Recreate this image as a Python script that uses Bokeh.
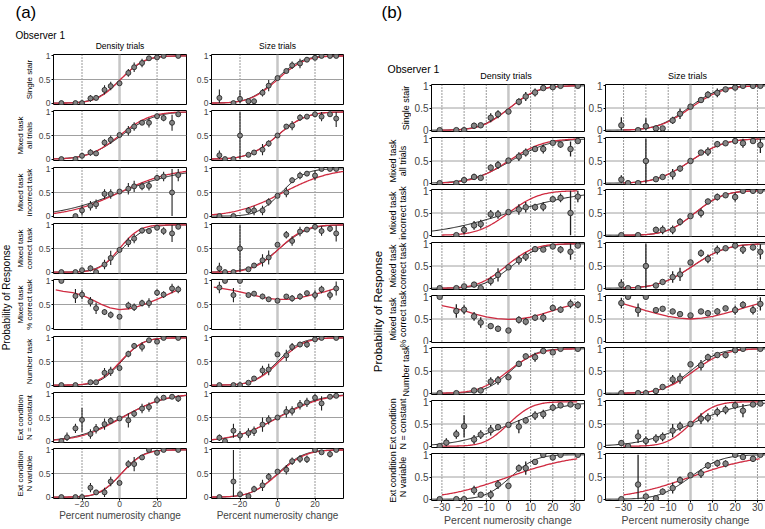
import math
from bokeh.plotting import figure
from bokeh.models import Range1d, FixedTicker, Span, ColumnDataSource
from bokeh.layouts import row, column
from bokeh.embed import file_html
from bokeh.resources import INLINE
from bokeh.core.properties import value

N = None
FONT = "Liberation Sans"
RED = "#cf2a40"
BLACK = "#1c1c1c"

# ---------------- data ----------------
x_levels = [-31, -28, -23.5, -20, -15.5, -12.5, -8, -4.7, 0, 4.7, 7.8, 12, 15.7, 20, 23.5, 28, 31.3]

row_labels = [("Single stair",), ("Mixed task", "all trials"), ("Mixed task", "incorrect task"),
              ("Mixed task", "correct task"), ("Mixed task", "% correct task"), ("Number task",),
              ("Ext condition", "N = constant"), ("Ext condition", "N variable")]
col_titles = ["Density trials", "Size trials"]
x_label = "Percent numerosity change"
y_label = "Probability of Response"
y_ticks = [0, 0.5, 1]
x_ticks_a = [-20, 0, 20]
x_ticks_b = [-30, -20, -10, 0, 10, 20, 30]

# Density trials (proportions, error half-lengths)
d_single = [0, N, 0, 0, 0.10, 0.11, 0.28, 0.36, 0.42, 0.64, 0.76, 0.85, 0.95, 0.97, 1.0, N, 1.0]
d_single_e = [0, 0, 0, 0, 0.07, 0.05, 0.10, 0.09, 0, 0.08, 0.10, 0.09, 0.04, 0.02, 0, 0, 0]
d_all = [0, N, 0, 0.07, 0.14, 0.12, 0.35, 0.41, 0.51, 0.60, 0.69, 0.77, 0.77, 0.91, 0.87, 0.77, 0.95]
d_all_e = [0, 0, 0, 0.04, 0.07, 0.05, 0.07, 0.09, 0, 0.10, 0.09, 0.05, 0.10, 0.03, 0.07, 0.17, 0.04]
d_incorrect = [N, N, 0, 0.12, 0.22, 0.25, 0.47, 0.47, 0.52, 0.58, 0.63, 0.63, 0.64, 0.81, 0.84, 0.50, 0.87]
d_incorrect_e = [0, 0, 0, 0.10, 0.10, 0.10, 0.10, 0.10, 0, 0.12, 0.12, 0.08, 0.10, 0.06, 0.10, 0.50, 0.13]
d_correct = [0, N, 0, 0.04, 0.08, 0, 0.16, 0.30, 0.47, 0.63, 0.71, 0.88, 0.87, 0.94, 0.87, 0.82, 0.96]
d_correct_e = [0, 0, 0, 0.02, 0.06, 0, 0.10, 0.15, 0, 0.10, 0.10, 0.06, 0.05, 0.03, 0.08, 0.18, 0.04]
d_pct = [1.0, N, 0.68, 0.71, 0.56, 0.42, 0.34, 0.28, 0.24, 0.48, 0.44, 0.53, 0.53, 0.75, 0.71, 0.84, 0.82]
d_pct_e = [0, 0, 0.15, 0.10, 0.10, 0.12, 0.06, 0.07, 0, 0.08, 0.08, 0.07, 0.10, 0.07, 0.07, 0.10, 0.08]
d_number = [0, N, 0, N, 0.06, 0.06, 0.26, 0.29, 0.36, 0.66, 0.83, 0.81, 0.95, 0.92, 1.0, N, 1.0]
d_number_e = [0, 0, 0, 0, 0.03, 0.03, 0.10, 0.10, 0, 0.07, 0.06, 0.10, 0.03, 0.05, 0, 0, 0]
d_constant = [0, 0.08, 0.27, 0.45, 0.15, 0.26, 0.36, 0.43, 0.48, 0.44, 0.58, 0.69, 0.72, 0.87, 0.92, 0.94, 0.90]
d_constant_e = [0, 0.10, 0.10, 0.25, 0.10, 0.10, 0.12, 0.07, 0, 0.15, 0.07, 0.10, 0.10, 0.08, 0.05, 0.03, 0.07]
d_variable = [0, N, 0, 0, 0.20, 0.10, 0.10, 0.33, 0.30, 0.70, 0.70, 0.84, 1.0, 0.94, 1.0, N, 1.0]
d_variable_e = [0, 0, 0, 0, 0.10, 0.05, 0.10, 0.10, 0, 0.08, 0.15, 0.05, 0, 0.05, 0, 0, 0]

# Size trials
s_single = [0.11, N, 0, 0.09, 0.04, 0.04, 0.22, 0.37, 0.53, 0.68, 0.80, 0.84, 0.92, 0.96, 1.0, 1.0, 1.0]
s_single_e = [0.18, 0, 0, 0.18, 0, 0, 0.08, 0.12, 0, 0.05, 0.08, 0.10, 0.05, 0.04, 0, 0, 0]
s_all = [0.08, 0, 0, 0.50, 0.09, 0.14, 0.20, 0.33, 0.50, 0.69, 0.71, 0.88, 0.90, 0.95, 0.90, 0.95, 0.86]
s_all_e = [0.10, 0, 0, 0.50, 0.03, 0.05, 0.12, 0.07, 0, 0.05, 0.10, 0.07, 0.03, 0.05, 0.10, 0.03, 0.18]
s_incorrect = [0, N, 0, N, 0.12, 0.12, 0.12, 0.30, 0.43, 0.50, 0.76, 0.86, 0.90, 0.86, 1.0, 1.0, 1.0]
s_incorrect_e = [0, 0, 0, 0, 0.07, 0.10, 0.10, 0.08, 0, 0.10, 0.06, 0.08, 0.05, 0.10, 0, 0, 0]
s_correct = [0.08, 0, 0, 0.50, 0.06, 0.14, 0.25, 0.31, 0.58, 0.79, 0.66, 0.86, 0.90, 0.96, 0.87, 0.92, 0.82]
s_correct_e = [0.12, 0, 0, 0.50, 0.03, 0.05, 0.13, 0.15, 0, 0.08, 0.10, 0.10, 0.05, 0.03, 0.10, 0.07, 0.17]
s_pct = [0.86, 1.0, 0.70, 1.0, 0.70, 0.73, 0.67, 0.61, 0.58, 0.67, 0.63, 0.67, 0.74, 0.70, 0.82, 0.70, 0.84]
s_pct_e = [0.12, 0, 0.15, 0, 0.05, 0.05, 0.06, 0.05, 0, 0.05, 0.07, 0.07, 0.05, 0.10, 0.08, 0.10, 0.15]
s_number = [0, N, 0, 0, 0.05, 0.14, 0.31, 0.33, 0.65, 0.63, 0.81, 0.86, 0.86, 0.97, 1.0, N, 1.0]
s_number_e = [0, 0, 0, 0, 0.02, 0.05, 0.10, 0.12, 0, 0.12, 0.08, 0.06, 0.07, 0.03, 0, 0, 0]
s_constant = [0.07, 0, 0.22, 0.12, 0.17, 0.21, 0.35, 0.45, 0.50, 0.62, 0.64, 0.77, 0.82, 0.92, 0.80, 0.94, 0.96]
s_constant_e = [0.07, 0, 0.15, 0.10, 0.10, 0.10, 0.15, 0.10, 0, 0.12, 0.10, 0.10, 0.10, 0.08, 0.15, 0.05, 0.03]
s_variable = [0, N, 0.33, 0.06, 0.02, 0.17, 0.25, 0.43, 0.54, 0.58, 0.76, 0.81, 0.80, 1.0, 0.95, 0.91, 1.0]
s_variable_e = [0, 0, 0.67, 0.05, 0, 0.07, 0.12, 0.08, 0, 0.10, 0.08, 0.08, 0.08, 0, 0.03, 0.07, 0]

density_y = [d_single, d_all, d_incorrect, d_correct, d_pct, d_number, d_constant, d_variable]
density_e = [d_single_e, d_all_e, d_incorrect_e, d_correct_e, d_pct_e, d_number_e, d_constant_e, d_variable_e]
size_y = [s_single, s_all, s_incorrect, s_correct, s_pct, s_number, s_constant, s_variable]
size_e = [s_single_e, s_all_e, s_incorrect_e, s_correct_e, s_pct_e, s_number_e, s_constant_e, s_variable_e]

# fitted cumulative-normal psychometric functions (PSE, spread)
black_pse_density = [0.5, 1, 0, 1.5, N, 1, 1, 1]
black_sd_density = [10.5, 14, 26, 10, N, 9, 19, 9]
black_pse_size = [-1, 0, 2, 1, N, 0, 0, 0]
black_sd_size = [11, 12, 10, 12, N, 10, 18, 11]

red_a_pse_density = [0.5, 0, 0, 0, N, 0.5, 1.5, 1]
red_a_sd_density = [10, 13, 22, 8.5, N, 9.5, 18, 9.5]
red_a_pse_size = [0, 0, 3, 1, N, 1, 0.5, 0.5]
red_a_sd_size = [11.5, 12, 20, 11, N, 10.5, 19, 11.5]

red_b_pse_density = [0.5, 0, 0, -1, N, 0, 0, 0]
red_b_sd_density = [10, 12.5, 11, 10, N, 10.5, 8.5, 23]
red_b_pse_size = [0, 0, 2, 1, N, 1.5, 0, 0]
red_b_sd_size = [11.5, 12, 10, 12, N, 11, 8.5, 23]

# "% correct task" model curves
pct_a_x = [-34, -30, -25, -20, -15, -10, -5, 0, 5, 10, 15, 20, 25, 31]
pct_a_density = [0.81, 0.78, 0.75, 0.70, 0.61, 0.51, 0.43, 0.39, 0.41, 0.46, 0.53, 0.61, 0.70, 0.81]
pct_a_size = [0.87, 0.84, 0.81, 0.77, 0.72, 0.67, 0.63, 0.61, 0.61, 0.63, 0.67, 0.72, 0.77, 0.84]
pct_b_x = [-30, -25, -20, -15, -10, -5, 0, 5, 10, 15, 20, 25, 31]
pct_b_density = [0.80, 0.75, 0.69, 0.61, 0.55, 0.51, 0.49, 0.50, 0.54, 0.61, 0.69, 0.77, 0.84]
pct_b_size = [0.84, 0.77, 0.69, 0.62, 0.56, 0.52, 0.50, 0.52, 0.56, 0.62, 0.69, 0.77, 0.85]


def phi(z):
    return 0.5 * (1.0 + math.erf(z / math.sqrt(2.0)))


def pix_fig(w, h):
    p = figure(frame_width=w, frame_height=h, x_range=Range1d(0, w), y_range=Range1d(0, h),
               min_border=0, x_axis_location=None, y_axis_location=None,
               toolbar_location=None, output_backend="svg", title=None)
    p.outline_line_color = None
    p.grid.visible = False
    return p


def put_text(p, h, left, top, items, size, align="left", baseline="middle", angle=0.0):
    p.text(x=[it[0] - left for it in items], y=[h - (it[1] - top) for it in items],
           text=[it[2] for it in items], angle=angle, text_font=value(FONT),
           text_font_size=value(size), text_align=align, text_baseline=baseline,
           text_color="black")


def sub_fig(xr, fw, fh, bl, br, bt, bb, bottom, xticks, dotted, tick_px, lab_px):
    p = figure(frame_width=fw, frame_height=fh, x_range=Range1d(*xr), y_range=Range1d(-0.03, 1.03),
               min_border_left=bl, min_border_right=br, min_border_top=bt, min_border_bottom=bb,
               x_axis_location="below" if bottom else None,
               toolbar_location=None, output_backend="svg", title=None)
    p.outline_line_color = "black"
    p.outline_line_width = 1
    p.outline_line_alpha = 1
    p.grid.visible = False
    ya = p.yaxis[0]
    ya.ticker = FixedTicker(ticks=y_ticks)
    ya.major_label_overrides = {0: "0", 0.5: "0.5", 1: "1"}
    ya.major_label_text_font = FONT
    ya.major_label_text_font_size = tick_px
    ya.major_label_standoff = 1
    ya.major_tick_out = 2
    ya.major_tick_in = 0
    ya.minor_tick_line_color = None
    ya.axis_line_color = None
    if bottom:
        xa = p.xaxis[0]
        xa.ticker = FixedTicker(ticks=xticks)
        xa.axis_label = x_label
        xa.axis_label_text_font = FONT
        xa.axis_label_text_font_size = lab_px
        xa.axis_label_text_font_style = "normal"
        xa.axis_label_standoff = 0
        xa.major_label_text_font = FONT
        xa.major_label_text_font_size = tick_px
        xa.major_label_standoff = 0
        xa.major_tick_out = 2
        xa.major_tick_in = 0
        xa.minor_tick_line_color = None
        xa.axis_line_color = None
    for v in dotted:
        p.add_layout(Span(location=v, dimension="height", line_color="#333333", line_width=1,
                          line_dash="1 2", level="underlay"))
    p.add_layout(Span(location=0, dimension="height", line_color="#c6c6c6", line_width=2.5,
                      level="underlay"))
    p.add_layout(Span(location=0.5, dimension="width", line_color="#a0a0a0", line_width=1,
                      level="underlay"))
    return p


def draw_data(p, ys, es, msize, ewidth):
    xs, yv, lo, hi = [], [], [], []
    for x, y, e in zip(x_levels, ys, es):
        if y is None:
            continue
        xs.append(x)
        yv.append(y)
        lo.append(max(0.0, y - e))
        hi.append(min(1.0, y + e))
    src = ColumnDataSource(dict(x=xs, y=yv, lo=lo, hi=hi))
    p.segment(x0="x", y0="lo", x1="x", y1="hi", source=src, line_color="#202020", line_width=ewidth)
    p.scatter(x="x", y="y", source=src, marker="circle", size=msize, fill_color="#858585",
              line_color="#2a2a2a", line_width=0.9)


def sigmoid_line(p, pse, sd, x0, x1, color, width):
    n = 140
    xs = [x0 + (x1 - x0) * i / n for i in range(n + 1)]
    ys = [phi((x - pse) / sd) for x in xs]
    p.line(xs, ys, line_color=color, line_width=width)


def build_panel(panel):
    if panel == "a":
        g = dict(fh=50, pitches=[56, 57, 56, 56, 57, 56, 56], bt=3, bb_last=23,
                 xrs=[(-35.2, 35.7), (-35.2, 35.2)], fws=[133, 132], bls=[18, 24], brs=[1, 3],
                 xticks=x_ticks_a, dotted=[-20, 20], tick_px="8.5px", lab_px="10px",
                 msize=5, ew=1.1)
        red_pse = [red_a_pse_density, red_a_pse_size]
        red_sd = [red_a_sd_density, red_a_sd_size]
        pct_x, pct_y = pct_a_x, [pct_a_density, pct_a_size]
        red_span = None
    else:
        g = dict(fh=47, pitches=[53, 52, 53, 53, 52, 53, 53], bt=3, bb_last=26,
                 xrs=[(-34.7, 34.3), (-38.1, 33.6)], fws=[153, 160], bls=[18, 19], brs=[1, 2],
                 xticks=x_ticks_b, dotted=[-30, -20, -10, 10, 20, 30], tick_px="10px",
                 lab_px="10.5px", msize=5.5, ew=1.3)
        red_pse = [red_b_pse_density, red_b_pse_size]
        red_sd = [red_b_sd_density, red_b_sd_size]
        pct_x, pct_y = pct_b_x, [pct_b_density, pct_b_size]
        red_span = (-30, 31)
    black_pse = [black_pse_density, black_pse_size]
    black_sd = [black_sd_density, black_sd_size]
    ys_all = [density_y, size_y]
    es_all = [density_e, size_e]
    rows = []
    for r in range(8):
        bottom = (r == 7)
        figs = []
        for c in range(2):
            bb = g["bb_last"] if bottom else g["pitches"][r] - g["fh"] - g["bt"]
            p = sub_fig(g["xrs"][c], g["fws"][c], g["fh"], g["bls"][c], g["brs"][c], g["bt"], bb,
                        bottom, g["xticks"], g["dotted"], g["tick_px"], g["lab_px"])
            x0, x1 = g["xrs"][c]
            if black_pse[c][r] is not None:
                sigmoid_line(p, black_pse[c][r], black_sd[c][r], x0, x1, BLACK, 1.0)
            if red_pse[c][r] is not None:
                rx0, rx1 = red_span if red_span else (x0, x1)
                sigmoid_line(p, red_pse[c][r], red_sd[c][r], rx0, rx1, RED, 1.3)
            else:
                p.line(pct_x, pct_y[c], line_color=RED, line_width=1.3)
            draw_data(p, ys_all[c][r], es_all[c][r], g["msize"], g["ew"])
            figs.append(p)
        rows.append(row(*figs))
    return column(*rows), g


def strip_labels(strip, h, left, top, g, xs, size):
    frame_tops = []
    t = top
    for r in range(8):
        frame_tops.append(t + g["bt"])
        if r < 7:
            t += g["pitches"][r]
    one, two, single = [], [], []
    for r, lab in enumerate(row_labels):
        cy = frame_tops[r] + g["fh"] / 2
        if len(lab) == 1:
            single.append((xs[2], cy, lab[0]))
        else:
            one.append((xs[0], cy, lab[0]))
            two.append((xs[1], cy, lab[1]))
    for items in (one, two, single):
        put_text(strip, h, left, top, items, size, align="center", baseline="middle",
                 angle=math.pi / 2)


# ---------------- panel (a) ----------------
A_LEFT, A_TOP, A_HDR = 0, 0, 51
gridA, gA = build_panel("a")
stripA_w = 35
hdrA_w = stripA_w + sum(gA["fws"]) + sum(gA["bls"]) + sum(gA["brs"])
hdrA = pix_fig(hdrA_w, A_HDR)
put_text(hdrA, A_HDR, A_LEFT, A_TOP, [(15, 11.5, "(a)")], "17px")
put_text(hdrA, A_HDR, A_LEFT, A_TOP, [(15, 35, "Observer 1")], "10px")
colA_centers = [A_LEFT + stripA_w + gA["bls"][0] + gA["fws"][0] / 2,
                A_LEFT + stripA_w + gA["bls"][0] + gA["fws"][0] + gA["brs"][0] + gA["bls"][1]
                + gA["fws"][1] / 2]
put_text(hdrA, A_HDR, A_LEFT, A_TOP,
         [(colA_centers[0], 45.3, col_titles[0]), (colA_centers[1], 45.3, col_titles[1])],
         "8.5px", align="center")
gridA_top = A_TOP + A_HDR
stripA_h = sum(gA["pitches"]) + gA["bt"] + gA["fh"] + gA["bb_last"]
stripA = pix_fig(stripA_w, stripA_h)
strip_labels(stripA, stripA_h, A_LEFT, gridA_top, gA, (20, 28.5, 29), "8px")
put_text(stripA, stripA_h, A_LEFT, gridA_top, [(6, 297, y_label)], "10px", align="center",
         baseline="middle", angle=math.pi / 2)
panelA = column(hdrA, row(stripA, gridA))

# ---------------- panel (b) ----------------
B_LEFT, B_TOP, B_HDR = A_LEFT + hdrA_w, 0, 81
gridB, gB = build_panel("b")
stripB_w = 65
hdrB_w = stripB_w + sum(gB["fws"]) + sum(gB["bls"]) + sum(gB["brs"])
hdrB = pix_fig(hdrB_w, B_HDR)
put_text(hdrB, B_HDR, B_LEFT, B_TOP, [(381, 11.5, "(b)")], "17px")
put_text(hdrB, B_HDR, B_LEFT, B_TOP, [(387, 68.5, "Observer 1")], "10.5px")
xrR = gB["xrs"][1]
colB_centers = [B_LEFT + stripB_w + gB["bls"][0] + gB["fws"][0] / 2,
                B_LEFT + stripB_w + gB["bls"][0] + gB["fws"][0] + gB["brs"][0] + gB["bls"][1]
                + gB["fws"][1] * (0 - xrR[0]) / (xrR[1] - xrR[0])]
put_text(hdrB, B_HDR, B_LEFT, B_TOP,
         [(colB_centers[0], 75.5, col_titles[0]), (colB_centers[1], 75.5, col_titles[1])],
         "9px", align="center")
gridB_top = B_TOP + B_HDR
stripB_h = sum(gB["pitches"]) + gB["bt"] + gB["fh"] + gB["bb_last"]
stripB = pix_fig(stripB_w, stripB_h)
strip_labels(stripB, stripB_h, B_LEFT, gridB_top, gB, (392, 402, 405), "9px")
put_text(stripB, stripB_h, B_LEFT, gridB_top, [(377, 311, y_label)], "11.5px", align="center",
         baseline="middle", angle=math.pi / 2)
panelB = column(hdrB, row(stripB, gridB))

layout = row(panelA, panelB)
open("out.html", "w").write(file_html(layout, INLINE, "Psychometric functions"))
